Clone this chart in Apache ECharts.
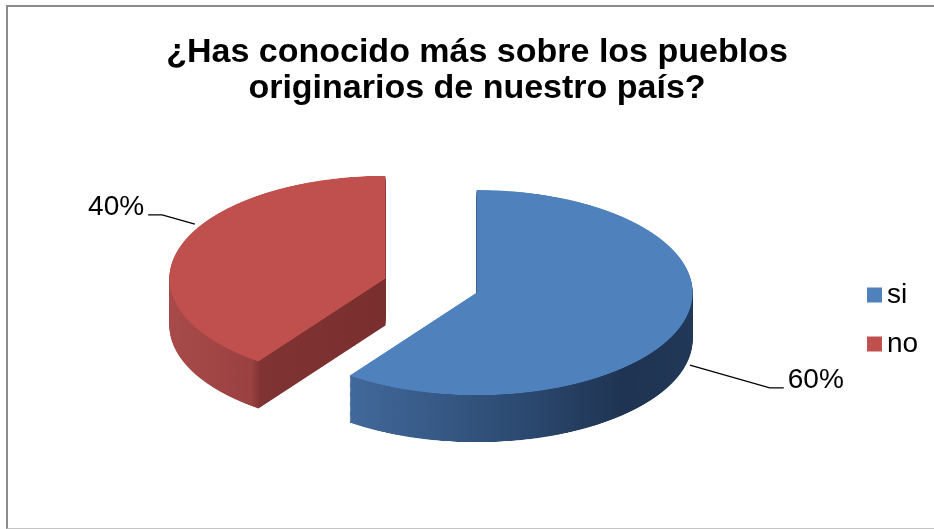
<!DOCTYPE html>
<html>
<head>
<meta charset="utf-8">
<script src="https://cdn.jsdelivr.net/npm/echarts@6/dist/echarts.min.js"></script>
<style>
html,body{margin:0;padding:0;background:#fff;width:934px;height:529px;overflow:hidden;position:relative;}
#frame{position:absolute;left:6px;top:5px;width:940px;height:521px;border-left:2px solid #8c8c8c;border-top:2px solid #8c8c8c;border-bottom:1px solid #c4c4c4;}
#pie3d{position:absolute;left:0;top:0;width:934px;transform-origin:0 0;}
#overlay{position:absolute;left:0;top:0;width:934px;height:529px;}
</style>
</head>
<body>
<div id="frame"></div>
<div id="pie3d"></div>
<div id="overlay"></div>
<script>
// ---- data ----
const chartTitle = '¿Has conocido más sobre los pueblos\noriginarios de nuestro país?';
const categories = ['si', 'no'];
const values = [60, 40];

// ---- styles ----
const FONT = "'Liberation Sans', Arial, sans-serif";
const topColors = ['#4f81bd', '#c0504d'];
const sideStops = [
  [{offset:0,color:'#42699b'},{offset:0.5,color:'#2c4a71'},{offset:0.8,color:'#1f3452'},{offset:1,color:'#223858'}],
  [{offset:0,color:'#a84a4a'},{offset:0.38,color:'#9b4141'},{offset:0.42,color:'#803333'},{offset:1,color:'#7a2f2f'}]
];

// ---- 3D pie (top face + extruded side), vertically squashed ----
const K = 0.475;          // vertical squash of the pie plane
const W = 934, H = 529;
const CX = 431, CY = 285.5, R = 216, DEPTH = 47, EXPLODE = 48;
const el3d = document.getElementById('pie3d');
el3d.style.height = Math.round(H / K) + 'px';
el3d.style.transform = 'scaleY(' + K + ')';
const chart3d = echarts.init(el3d, null, {renderer: 'canvas'});

function layer(d, isTop) {
  return {
    type: 'pie',
    silent: true,
    animation: false,
    startAngle: 90,
    clockwise: true,
    center: [CX, (CY + d) / K],
    radius: [0, R],
    selectedMode: 'multiple',
    selectedOffset: EXPLODE,
    label: {show: false},
    labelLine: {show: false},
    emphasis: {disabled: true},
    data: categories.map((name, i) => ({
      name: name,
      value: values[i],
      selected: true,
      itemStyle: {
        color: isTop ? topColors[i] : new echarts.graphic.LinearGradient(0, 0, 1, 0, sideStops[i]),
        borderWidth: 0
      }
    }))
  };
}
const layers = [];
for (let d = DEPTH; d >= 1; d--) layers.push(layer(d, false));
layers.push(layer(0, true));
chart3d.setOption({animation: false, series: layers});

// ---- overlay: title, legend, percentage labels ----
const labelLineLens = [83, 34];
const overlay = echarts.init(document.getElementById('overlay'), null, {renderer: 'canvas'});
overlay.setOption({
  animation: false,
  title: {
    text: chartTitle,
    left: 472,
    top: 30,
    textAlign: 'center',
    textStyle: {fontFamily: FONT, fontWeight: 'bold', fontSize: 34, lineHeight: 36, color: '#000'}
  },
  legend: {
    orient: 'vertical',
    left: 862,
    top: 276,
    icon: 'rect',
    itemWidth: 15,
    itemHeight: 15,
    itemGap: 21,
    selectedMode: false,
    textStyle: {fontFamily: FONT, fontSize: 28, lineHeight: 28, color: '#000'},
    data: categories.map((name, i) => ({name: name, itemStyle: {color: topColors[i]}}))
  },
  series: [{
    type: 'pie',
    silent: true,
    center: [442.4, 294.7],
    radius: [0, 257.4],
    startAngle: 92.1,
    clockwise: true,
    avoidLabelOverlap: false,
    percentPrecision: 0,
    itemStyle: {color: 'rgba(0,0,0,0)', borderWidth: 0},
    label: {show: true, position: 'outside', formatter: '{d}%\n ', fontFamily: FONT, fontSize: 28, lineHeight: 16, color: '#000',
            distanceToLabelLine: 4},
    labelLine: {show: true, length: 50, length2: 14, lineStyle: {color: '#000', width: 1.3}},
    data: categories.map((name, i) => ({name: name, value: values[i], labelLine: {length: labelLineLens[i]}}))
  }]
});
</script>
</body>
</html>
